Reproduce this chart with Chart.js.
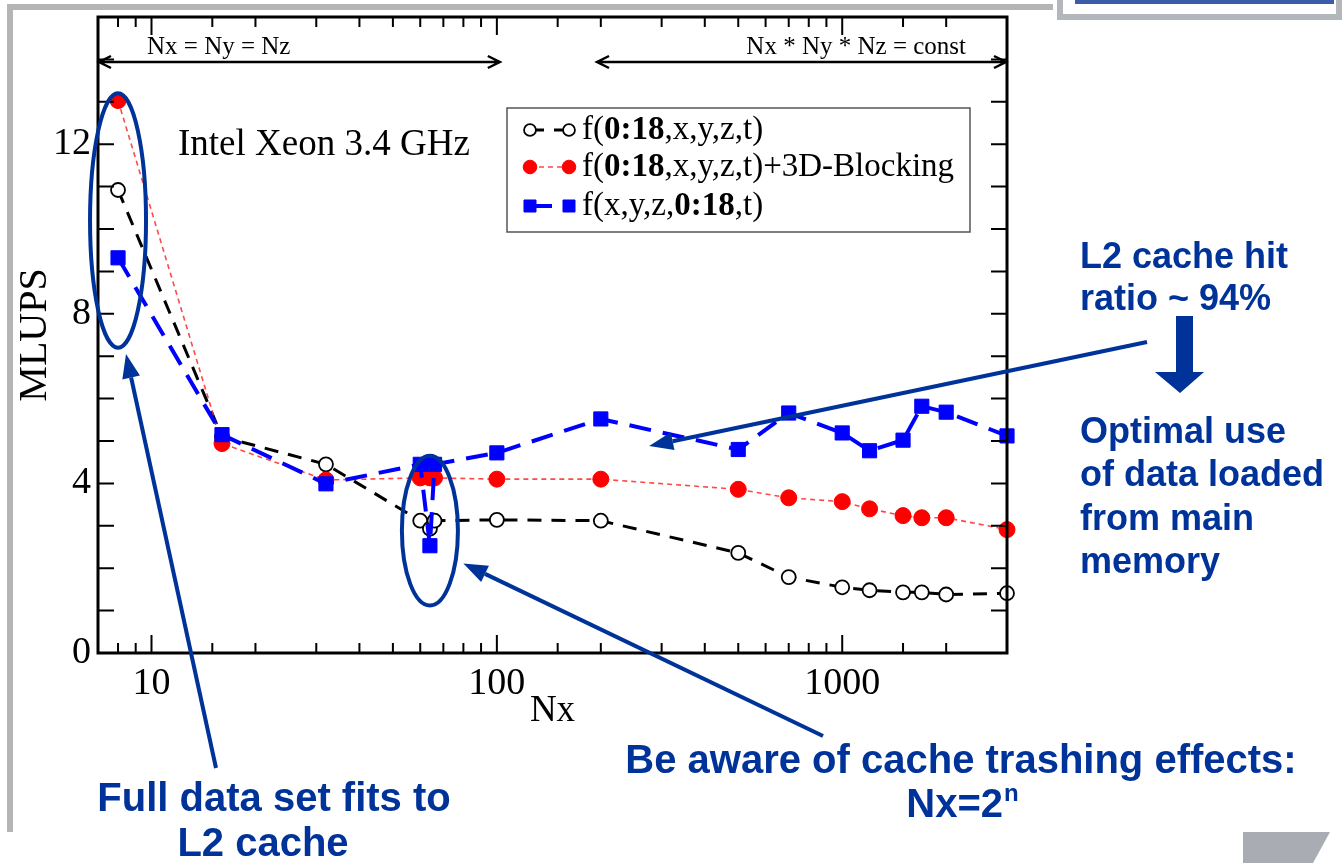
<!DOCTYPE html>
<html>
<head>
<meta charset="utf-8">
<title>MLUPS vs Nx</title>
<script src="https://cdn.jsdelivr.net/npm/chart.js@4.4.0/dist/chart.umd.min.js"></script>
<style>
  html, body { margin: 0; padding: 0; background: #fff; }
  #wrap { width: 1342px; height: 863px; position: relative; }
</style>
</head>
<body>
<div id="wrap"><canvas id="chart" width="1342" height="863"></canvas></div>
<script>
// data
const nx = [8, 16, 32, 60, 64, 66, 100, 200, 500, 700, 1000, 1200, 1500, 1700, 2000, 3000];
const plainVals = [10.92, 5.1, 4.45, 3.12, 2.93, 3.12, 3.14, 3.12, 2.36, 1.79, 1.55, 1.48, 1.43, 1.43, 1.38, 1.41];
const blockingVals = [13.03, 4.94, 4.08, 4.13, 4.13, 4.13, 4.1, 4.1, 3.86, 3.66, 3.57, 3.4, 3.24, 3.19, 3.19, 2.91];
const swappedVals = [9.32, 5.15, 3.99, 4.45, 2.53, 4.45, 4.72, 5.52, 4.8, 5.66, 5.19, 4.77, 5.02, 5.82, 5.68, 5.12];
const seriesLabels = ['f(0:18,x,y,z,t)', 'f(0:18,x,y,z,t)+3D-Blocking', 'f(x,y,z,0:18,t)'];
const xTickLabels = [10, 100, 1000];
const yTickLabels = [0, 4, 8, 12];

const BLUE = '#003399';
const SERIF = '"Liberation Serif", "DejaVu Serif", serif';
const SANS = '"Liberation Sans", Arial, sans-serif';

function toPoints(vals) {
  return nx.map((x, i) => ({ x: x, y: vals[i] }));
}
function isPow10(v) {
  const l = Math.log10(v);
  return Math.abs(l - Math.round(l)) < 1e-6;
}

function arrow(ctx, x1, y1, x2, y2) {
  const a = Math.atan2(y2 - y1, x2 - x1), L = 24, W = 9;
  const bx = x2 - L * Math.cos(a), by = y2 - L * Math.sin(a);
  ctx.beginPath(); ctx.moveTo(x1, y1); ctx.lineTo(bx, by); ctx.stroke();
  ctx.beginPath();
  ctx.moveTo(x2, y2);
  ctx.lineTo(bx + W * Math.sin(a), by - W * Math.cos(a));
  ctx.lineTo(bx - W * Math.sin(a), by + W * Math.cos(a));
  ctx.closePath(); ctx.fill();
}

function dblArrow(ctx, x1, x2, y) {
  ctx.beginPath();
  ctx.moveTo(x1, y); ctx.lineTo(x2, y);
  ctx.moveTo(x1 + 12, y - 6); ctx.lineTo(x1, y); ctx.lineTo(x1 + 12, y + 6);
  ctx.moveTo(x2 - 12, y - 6); ctx.lineTo(x2, y); ctx.lineTo(x2 - 12, y + 6);
  ctx.stroke();
}

const decor = {
  id: 'decor',
  beforeDraw(chart) {
    const ctx = chart.ctx;
    ctx.save();
    ctx.fillStyle = '#fff';
    ctx.fillRect(0, 0, chart.width, chart.height);
    // slide frame bits
    ctx.fillStyle = '#b5b5b5';
    ctx.fillRect(7, 4, 1046, 6);
    ctx.fillRect(7, 10, 6, 822);
    ctx.fillStyle = '#b3b6bb';
    ctx.fillRect(1057, 0, 285, 20);
    ctx.fillStyle = '#fff';
    ctx.fillRect(1063, 0, 273, 14);
    ctx.fillStyle = '#3d5ca8';
    ctx.fillRect(1075, 0, 259, 4);
    ctx.fillStyle = '#a9acb2';
    ctx.beginPath();
    ctx.moveTo(1243, 832); ctx.lineTo(1330, 832); ctx.lineTo(1313, 863); ctx.lineTo(1243, 863);
    ctx.closePath(); ctx.fill();
    ctx.restore();
  },
  afterDraw(chart) {
    const ctx = chart.ctx;
    const xs = chart.scales.x, ys = chart.scales.y;
    const { left, right, top, bottom } = chart.chartArea;
    ctx.save();

    // frame
    ctx.strokeStyle = '#000';
    ctx.lineWidth = 3;
    ctx.strokeRect(left, top, right - left, bottom - top);

    // inward ticks
    ctx.lineWidth = 2;
    ctx.beginPath();
    xs.ticks.forEach(t => {
      if (t.value <= xs.min || t.value >= xs.max) return;
      const px = xs.getPixelForValue(t.value);
      const len = isPow10(t.value) ? 18 : 10;
      ctx.moveTo(px, bottom); ctx.lineTo(px, bottom - len);
      ctx.moveTo(px, top); ctx.lineTo(px, top + len);
    });
    ys.ticks.forEach(t => {
      if (t.value <= ys.min || t.value >= ys.max) return;
      const py = ys.getPixelForValue(t.value);
      ctx.moveTo(left, py); ctx.lineTo(left + 16, py);
      ctx.moveTo(right, py); ctx.lineTo(right - 16, py);
    });
    ctx.stroke();

    // top range arrows
    ctx.lineWidth = 2.5;
    dblArrow(ctx, left + 1, xs.getPixelForValue(102), 62);
    dblArrow(ctx, xs.getPixelForValue(195), right - 1, 62);
    ctx.fillStyle = '#000';
    ctx.font = '25px ' + SERIF;
    ctx.textBaseline = 'alphabetic';
    ctx.textAlign = 'left';
    ctx.fillText('Nx = Ny = Nz', 147, 54);
    ctx.textAlign = 'right';
    ctx.fillText('Nx * Ny * Nz = const', 966, 54);

    // machine label
    ctx.textAlign = 'left';
    ctx.textBaseline = 'middle';
    ctx.font = '37px ' + SERIF;
    ctx.fillText('Intel Xeon 3.4 GHz', 178, 145);

    // legend
    ctx.strokeStyle = '#555';
    ctx.lineWidth = 1.5;
    ctx.strokeRect(507, 108, 463, 124);
    const rowsY = [130, 167, 206];
    chart.data.datasets.forEach((ds, i) => {
      const y = rowsY[i];
      ctx.save();
      ctx.strokeStyle = ds.borderColor;
      ctx.lineWidth = ds.borderWidth;
      ctx.setLineDash(ds.borderDash);
      ctx.beginPath(); ctx.moveTo(530, y); ctx.lineTo(569, y); ctx.stroke();
      ctx.restore();
      [530, 569].forEach(px => {
        ctx.fillStyle = ds.pointBackgroundColor;
        ctx.strokeStyle = ds.pointBorderColor;
        ctx.lineWidth = ds.pointBorderWidth;
        Chart.helpers.drawPoint(ctx, {
          pointStyle: ds.pointStyle, radius: ds.pointRadius * 0.85,
          rotation: 0, borderWidth: ds.pointBorderWidth
        }, px, y);
      });
      const parts = ds.label.split('0:18');
      let x = 582;
      ctx.fillStyle = '#000';
      ctx.textAlign = 'left';
      ctx.textBaseline = 'middle';
      ctx.font = '33px ' + SERIF;
      ctx.fillText(parts[0], x, y); x += ctx.measureText(parts[0]).width;
      ctx.font = 'bold 33px ' + SERIF;
      ctx.fillText('0:18', x, y); x += ctx.measureText('0:18').width;
      ctx.font = '33px ' + SERIF;
      ctx.fillText(parts[1], x, y);
    });

    // callout ellipses
    ctx.strokeStyle = BLUE;
    ctx.fillStyle = BLUE;
    ctx.lineWidth = 4;
    const e1x = xs.getPixelForValue(8), e1t = ys.getPixelForValue(13.2), e1b = ys.getPixelForValue(7.2);
    ctx.beginPath(); ctx.ellipse(e1x, (e1t + e1b) / 2, 28, (e1b - e1t) / 2, 0, 0, Math.PI * 2); ctx.stroke();
    const e2x = xs.getPixelForValue(64), e2t = ys.getPixelForValue(4.65), e2b = ys.getPixelForValue(1.12);
    ctx.beginPath(); ctx.ellipse(e2x, (e2t + e2b) / 2, 28, (e2b - e2t) / 2, 0, 0, Math.PI * 2); ctx.stroke();

    // callout arrows
    arrow(ctx, 216, 768, xs.getPixelForValue(8) + 8, ys.getPixelForValue(7.05));
    arrow(ctx, 1147, 342, xs.getPixelForValue(276), ys.getPixelForValue(4.88));
    arrow(ctx, 823, 736, xs.getPixelForValue(80), ys.getPixelForValue(2.11));

    // block arrow down
    ctx.beginPath();
    ctx.moveTo(1176, 316); ctx.lineTo(1193, 316); ctx.lineTo(1193, 372); ctx.lineTo(1204, 372);
    ctx.lineTo(1180, 393); ctx.lineTo(1155, 372); ctx.lineTo(1176, 372);
    ctx.closePath(); ctx.fill();

    // callout text
    ctx.textBaseline = 'middle';
    ctx.textAlign = 'left';
    ctx.font = 'bold 36px ' + SANS;
    ctx.fillText('L2 cache hit', 1080, 258);
    ctx.fillText('ratio ~ 94%', 1080, 300);
    ['Optimal use', 'of data loaded', 'from main', 'memory'].forEach((s, i) => {
      ctx.fillText(s, 1080, 433 + i * 43.5);
    });
    ctx.font = 'bold 40px ' + SANS;
    ctx.textAlign = 'center';
    ctx.fillText('Be aware of cache trashing effects:', 961, 762);
    ctx.fillText('Full data set fits to', 274, 800);
    ctx.fillText('L2 cache', 263, 845);
    // Nx=2^n
    ctx.textAlign = 'left';
    const base = 'Nx=2';
    const wBase = ctx.measureText(base).width;
    ctx.font = 'bold 24px ' + SANS;
    const wSup = ctx.measureText('n').width;
    const sx = 962 - (wBase + wSup) / 2;
    ctx.font = 'bold 40px ' + SANS;
    ctx.fillText(base, sx, 806);
    ctx.font = 'bold 24px ' + SANS;
    ctx.fillText('n', sx + wBase + 1, 794);

    ctx.restore();
  }
};

new Chart(document.getElementById('chart'), {
  type: 'scatter',
  data: {
    datasets: [
      {
        label: seriesLabels[0],
        data: toPoints(plainVals),
        showLine: true,
        borderColor: '#000',
        borderWidth: 3,
        borderDash: [14, 10],
        pointStyle: 'circle',
        pointRadius: 7,
        pointBackgroundColor: '#fff',
        pointBorderColor: '#000',
        pointBorderWidth: 1.8,
        clip: false,
        order: 3
      },
      {
        label: seriesLabels[1],
        data: toPoints(blockingVals),
        showLine: true,
        borderColor: 'rgba(255,40,40,0.85)',
        borderWidth: 1.6,
        borderDash: [5, 4],
        pointStyle: 'circle',
        pointRadius: 8,
        pointBackgroundColor: '#ff0000',
        pointBorderColor: '#ff0000',
        pointBorderWidth: 1,
        clip: false,
        order: 2
      },
      {
        label: seriesLabels[2],
        data: toPoints(swappedVals),
        showLine: true,
        borderColor: '#0000ff',
        borderWidth: 4,
        borderDash: [22, 12],
        pointStyle: 'rect',
        pointRadius: 10,
        pointBackgroundColor: '#0000ff',
        pointBorderColor: '#0000ff',
        pointBorderWidth: 1,
        clip: false,
        order: 1
      }
    ]
  },
  options: {
    responsive: false,
    animation: false,
    layout: { padding: { left: 0, top: 17, right: 335, bottom: 126 } },
    plugins: { legend: { display: false }, tooltip: { enabled: false } },
    scales: {
      x: {
        type: 'logarithmic',
        min: 7,
        max: 3000,
        grid: { drawOnChartArea: false, drawTicks: false },
        border: { display: false },
        ticks: {
          autoSkip: false,
          maxRotation: 0,
          padding: 8,
          color: '#000',
          font: { family: SERIF, size: 38 },
          callback: v => xTickLabels.some(t => Math.abs(t - v) < 1e-6) ? String(v) : ''
        },
        title: { display: true, text: 'Nx', color: '#000', font: { family: SERIF, size: 37 }, padding: { top: 0, bottom: 4 } },
        afterFit(s) { s.height = 84; s.paddingLeft = 0; s.paddingRight = 0; }
      },
      y: {
        min: 0,
        max: 15,
        grid: { drawOnChartArea: false, drawTicks: false },
        border: { display: false },
        ticks: {
          stepSize: 1,
          autoSkip: false,
          padding: 7,
          color: '#000',
          font: { family: SERIF, size: 38 },
          callback: v => yTickLabels.includes(v) ? String(v) : ''
        },
        title: { display: true, text: 'MLUPS', color: '#000', font: { family: SERIF, size: 40 }, padding: { top: 11, bottom: 0 } },
        afterFit(s) { s.width = 98; s.paddingTop = 0; s.paddingBottom = 0; }
      }
    }
  },
  plugins: [decor]
});
</script>
</body>
</html>
